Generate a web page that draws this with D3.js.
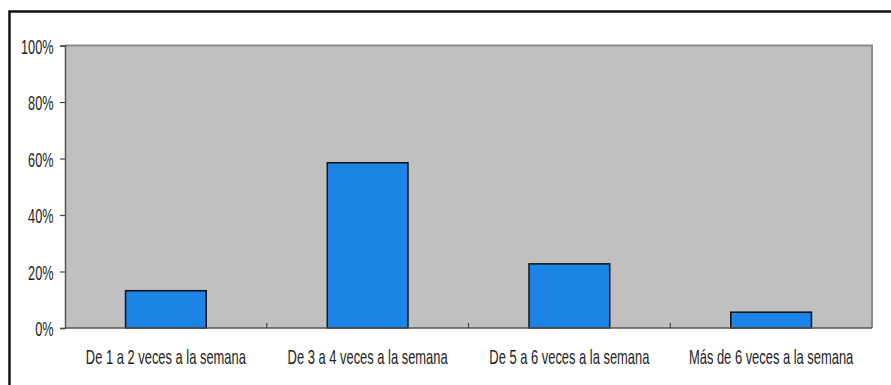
<!DOCTYPE html>
<html>
<head>
<meta charset="utf-8">
<script src="https://cdn.jsdelivr.net/npm/d3@7"></script>
<style>
  html, body { margin: 0; padding: 0; background: #fff; }
  svg { display: block; }
  text { font-family: "Liberation Sans", Arial, sans-serif; fill: #1e1e1e; }
</style>
</head>
<body>
<svg id="chart" width="891" height="385"></svg>
<script>
// Frequency categories and their share of responses
const categories = [
  "De 1 a 2 veces a la semana",
  "De 3 a 4 veces a la semana",
  "De 5 a 6 veces a la semana",
  "Más de 6 veces a la semana"
];
const values = [0.132, 0.585, 0.227, 0.056];
const yTicks = [0, 0.2, 0.4, 0.6, 0.8, 1.0];
const yTickLabels = ["0%", "20%", "40%", "60%", "80%", "100%"];

const svg = d3.select("#chart");
const W = 891, H = 385;
const plot = { left: 65, top: 45.5, right: 872, bottom: 328 };

// Outer frame: only left and top edges are visible
svg.append("path")
  .attr("d", `M9.5,${H} V11.5 H${W}`)
  .attr("fill", "none")
  .attr("stroke", "#111")
  .attr("stroke-width", 2.5);

const x = d3.scaleBand()
  .domain(categories)
  .range([plot.left, plot.right])
  .paddingInner(0.6)
  .paddingOuter(0.3);

const y = d3.scaleLinear()
  .domain([0, 1])
  .range([plot.bottom, plot.top]);

// Plot area background with grey border on top and right
svg.append("rect")
  .attr("x", plot.left)
  .attr("y", plot.top)
  .attr("width", plot.right - plot.left)
  .attr("height", plot.bottom - plot.top)
  .attr("fill", "#c0c0c0");
svg.append("path")
  .attr("d", `M${plot.left},${plot.top} H${plot.right} V${plot.bottom}`)
  .attr("fill", "none")
  .attr("stroke", "#8a8a8a")
  .attr("stroke-width", 2);

// Bars
svg.append("g").selectAll("rect")
  .data(values)
  .join("rect")
  .attr("x", (d, i) => x(categories[i]))
  .attr("y", d => y(d))
  .attr("width", x.bandwidth())
  .attr("height", d => y(0) - y(d))
  .attr("fill", "#1c84e4")
  .attr("stroke", "#111")
  .attr("stroke-width", 1.5);

// Y axis
const yAxis = svg.append("g")
  .attr("transform", `translate(${plot.left},0)`)
  .call(d3.axisLeft(y).tickValues(yTicks).tickSize(5).tickPadding(0)
    .tickFormat((d, i) => yTickLabels[i]));
yAxis.select(".domain").attr("stroke", "#555").attr("stroke-width", 1.5);
yAxis.selectAll(".tick line").attr("stroke", "#444").attr("stroke-width", 1.2);
yAxis.selectAll(".tick text").remove();
yAxis.selectAll(".tick").append("text")
  .attr("text-anchor", "end")
  .attr("font-size", 20.5)
  .attr("transform", "translate(-11.5,7.5) scale(0.62,1)")
  .text((d, i) => yTickLabels[i]);

// X axis: baseline with tick marks between categories
const xAxisG = svg.append("g");
xAxisG.append("line")
  .attr("x1", plot.left).attr("x2", plot.right)
  .attr("y1", plot.bottom).attr("y2", plot.bottom)
  .attr("stroke", "#555").attr("stroke-width", 1.5);
const step = x.step();
const bounds = d3.range(1, categories.length).map(i => x(categories[i]) - step * x.paddingInner() / 2);
xAxisG.selectAll("line.sep")
  .data(bounds)
  .join("line")
  .attr("class", "sep")
  .attr("x1", d => d).attr("x2", d => d)
  .attr("y1", plot.bottom).attr("y2", plot.bottom - 5)
  .attr("stroke", "#444").attr("stroke-width", 1.2);

// Category labels
xAxisG.selectAll("text.cat")
  .data(categories)
  .join("text")
  .attr("class", "cat")
  .attr("text-anchor", "middle")
  .attr("font-size", 20.5)
  .attr("transform", d => `translate(${x(d) + x.bandwidth() / 2},364) scale(0.63,1)`)
  .text(d => d);
</script>
</body>
</html>
